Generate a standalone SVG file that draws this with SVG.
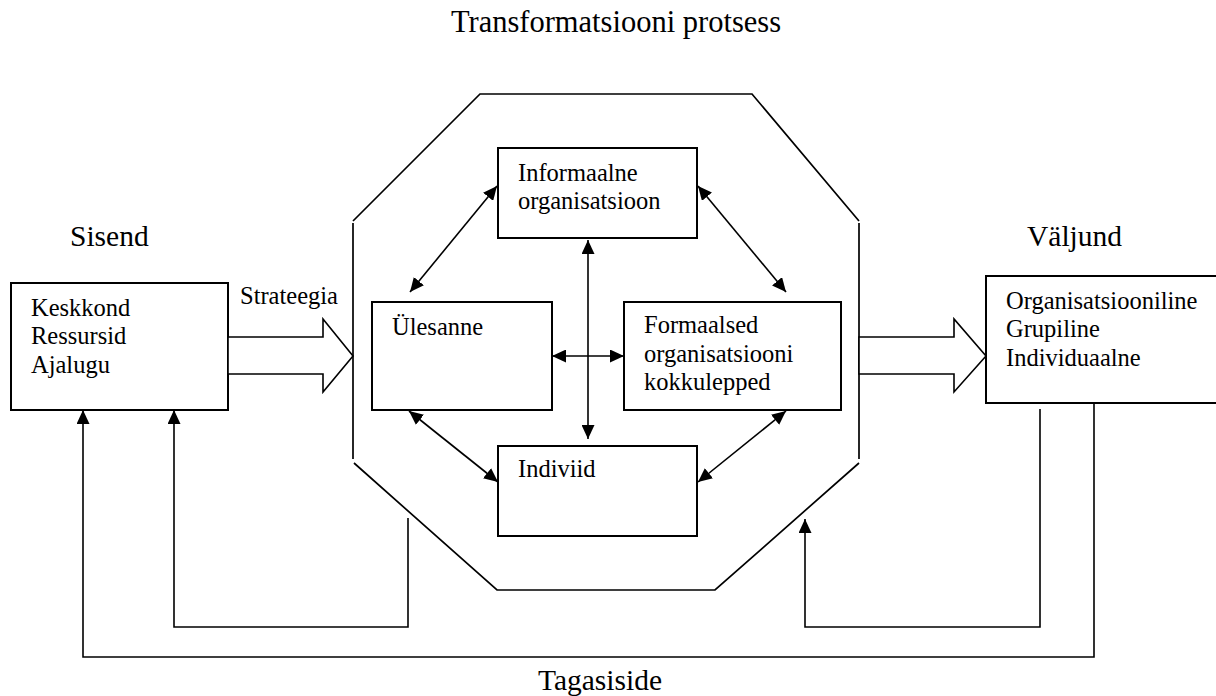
<svg xmlns="http://www.w3.org/2000/svg" width="1216" height="696" viewBox="0 0 1216 696">
<style>
  text { font-family: "Liberation Serif", "Times New Roman", serif; fill: #000; }
  .big { font-size: 29.5px; }
  .in { font-size: 24.5px; }
  .box { fill: #fff; stroke: #000; stroke-width: 2; }
  .oct { fill: none; stroke: #000; stroke-width: 1.7; }
  .con { fill: none; stroke: #000; stroke-width: 1.6; }
  .fb { fill: none; stroke: #000; stroke-width: 1.6; }
  .blk { fill: #fff; stroke: #000; stroke-width: 1.6; stroke-linejoin: miter; }
</style>
<defs>
  <marker id="ah" viewBox="0 0 14 13" refX="14" refY="6.5" markerWidth="14" markerHeight="13" markerUnits="userSpaceOnUse" orient="auto-start-reverse">
    <path d="M0,0 L14,6.5 L0,13 z" fill="#000"/>
  </marker>
</defs>
<rect width="1216" height="696" fill="#fff"/>

<text class="big" x="616" y="32" text-anchor="middle" style="font-size:30.5px">Transformatsiooni protsess</text>
<text class="big" x="70" y="246">Sisend</text>
<text class="big" x="1027" y="246">Väljund</text>
<text class="big" x="600" y="690" text-anchor="middle">Tagasiside</text>

<g id="octagon">
  <path class="oct" d="M353,221 L480,94 L752,94 L859,221"/>
  <line class="oct" x1="353" y1="223" x2="353" y2="459"/>
  <line class="oct" x1="859" y1="223" x2="859" y2="459"/>
  <path class="oct" d="M354,463 L497,590 L715,590 L859,463"/>
</g>

<g id="sisend">
  <rect class="box" x="11" y="283" width="217" height="127"/>
  <text class="in" x="31" y="316">Keskkond</text>
  <text class="in" x="31" y="344">Ressursid</text>
  <text class="in" x="31" y="373">Ajalugu</text>
</g>

<g id="valjund">
  <rect class="box" x="986" y="276" width="240" height="127"/>
  <text class="in" x="1006" y="309">Organisatsiooniline</text>
  <text class="in" x="1006" y="337">Grupiline</text>
  <text class="in" x="1006" y="366">Individuaalne</text>
</g>

<g id="informaalne">
  <rect class="box" x="498" y="148" width="199" height="90"/>
  <text class="in" x="518" y="181">Informaalne</text>
  <text class="in" x="518" y="209">organisatsioon</text>
</g>

<g id="ulesanne">
  <rect class="box" x="372" y="302" width="180" height="108"/>
  <text class="in" x="392" y="335">Ülesanne</text>
</g>

<g id="formaalsed">
  <rect class="box" x="624" y="302" width="217" height="108"/>
  <text class="in" x="644" y="333">Formaalsed</text>
  <text class="in" x="644" y="362">organisatsiooni</text>
  <text class="in" x="644" y="390">kokkulepped</text>
</g>

<g id="indiviid">
  <rect class="box" x="498" y="446" width="199" height="90"/>
  <text class="in" x="518" y="477">Indiviid</text>
</g>

<g id="connectors">
  <polygon class="blk" points="228,337 323,337 323,319 353,356 323,392 323,374 228,374"/>
  <text class="in" x="240" y="304">Strateegia</text>
  <polygon class="blk" points="859,337 954,337 954,319 986,356 954,392 954,374 859,374"/>

  <line class="con" x1="410" y1="292" x2="497" y2="186" marker-start="url(#ah)" marker-end="url(#ah)"/>
  <line class="con" x1="698" y1="186" x2="786" y2="292" marker-start="url(#ah)" marker-end="url(#ah)"/>
  <line class="con" x1="409" y1="411" x2="498" y2="482" marker-start="url(#ah)" marker-end="url(#ah)"/>
  <line class="con" x1="786" y1="411" x2="698" y2="482" marker-start="url(#ah)" marker-end="url(#ah)"/>
  <line class="con" x1="588" y1="240" x2="588" y2="439" marker-start="url(#ah)" marker-end="url(#ah)"/>
  <line class="con" x1="552" y1="356" x2="624" y2="356" marker-start="url(#ah)" marker-end="url(#ah)"/>

  <path class="fb" d="M408,518 L408,627 L174,627 L174,410" marker-end="url(#ah)"/>
  <path class="fb" d="M1094,403 L1094,657 L83,657 L83,410" marker-end="url(#ah)" stroke-width="2"/>
  <path class="fb" d="M1040,409 L1040,627 L805,627 L805,519" marker-end="url(#ah)"/>
</g>
</svg>
